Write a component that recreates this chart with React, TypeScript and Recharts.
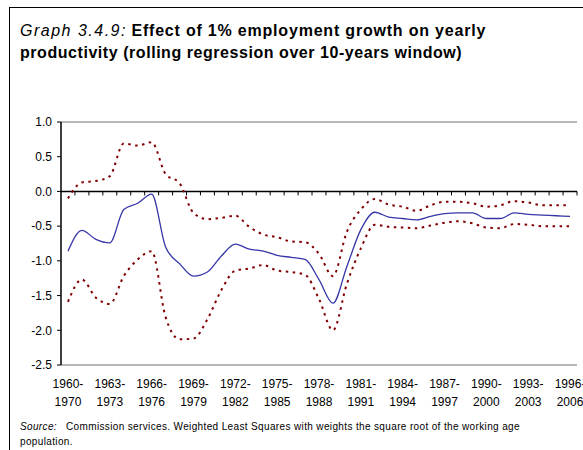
import React from 'react';
import { ComposedChart, Line, XAxis, YAxis, ReferenceLine } from 'recharts';

// 10-year rolling windows, 1960-1970 ... 1996-2006
const periods = [
  '1960-1970', '1961-1971', '1962-1972', '1963-1973', '1964-1974', '1965-1975',
  '1966-1976', '1967-1977', '1968-1978', '1969-1979', '1970-1980', '1971-1981',
  '1972-1982', '1973-1983', '1974-1984', '1975-1985', '1976-1986', '1977-1987',
  '1978-1988', '1979-1989', '1980-1990', '1981-1991', '1982-1992', '1983-1993',
  '1984-1994', '1985-1995', '1986-1996', '1987-1997', '1988-1998', '1989-1999',
  '1990-2000', '1991-2001', '1992-2002', '1993-2003', '1994-2004', '1995-2005',
  '1996-2006',
];

// point estimate
const estimate = [
  -0.86, -0.56, -0.69, -0.74, -0.26, -0.17, -0.04, -0.8, -1.04, -1.22, -1.16, -0.93,
  -0.76, -0.83, -0.86, -0.92, -0.95, -0.98, -1.27, -1.61, -1.08, -0.55, -0.3, -0.37,
  -0.39, -0.41, -0.36, -0.32, -0.31, -0.31, -0.39, -0.39, -0.31, -0.33, -0.34, -0.35,
  -0.36,
];

// confidence band
const upperBand = [
  -0.1, 0.13, 0.15, 0.22, 0.69, 0.66, 0.71, 0.25, 0.12, -0.31, -0.4, -0.38,
  -0.35, -0.51, -0.62, -0.66, -0.72, -0.73, -0.9, -1.22, -0.58, -0.26, -0.11, -0.19,
  -0.22, -0.28, -0.2, -0.15, -0.15, -0.17, -0.22, -0.2, -0.14, -0.16, -0.2, -0.2,
  -0.2,
];

const lowerBand = [
  -1.59, -1.27, -1.53, -1.62, -1.22, -0.98, -0.86, -1.81, -2.13, -2.12, -1.84, -1.42,
  -1.14, -1.11, -1.06, -1.14, -1.16, -1.2, -1.55, -2.0, -1.33, -0.82, -0.48, -0.51,
  -0.52, -0.53, -0.49, -0.45, -0.43, -0.46, -0.52, -0.53, -0.47, -0.48, -0.5, -0.5,
  -0.5,
];

const yTicks = [1.0, 0.5, 0.0, -0.5, -1.0, -1.5, -2.0, -2.5];

const data = periods.map((period, i) => ({
  period,
  estimate: estimate[i],
  upper: upperBand[i],
  lower: lowerBand[i],
}));

const FONT = '"Liberation Sans", Arial, sans-serif';

// zero line with Excel-style tick marks between categories
const ZeroAxis = (props: any) => {
  const { x1, y1, x2, y2 } = props;
  const step = (x2 - x1) / periods.length;
  return (
    <g>
      <line x1={x1} y1={y1} x2={x2} y2={y2} stroke="#000" strokeWidth={1.5} />
      {periods.map((p, i) => (
        <line
          key={p}
          x1={x1 + step * (i + 1)}
          x2={x1 + step * (i + 1)}
          y1={y1}
          y2={y1 + 4}
          stroke="#000"
          strokeWidth={1}
        />
      ))}
    </g>
  );
};

const PeriodTick = ({ x, y, payload }: any) => {
  const [from, to] = String(payload.value).split('-');
  return (
    <text x={x} y={y} textAnchor="middle" fontSize={12} fill="#000" fontFamily={FONT}>
      <tspan x={x} dy={23}>{from}-</tspan>
      <tspan x={x} dy={18}>{to}</tspan>
    </text>
  );
};

export default function App() {
  return (
    <div style={{ position: 'relative', width: 583, height: 450, overflow: 'hidden', fontFamily: FONT }}>
      <style>{'body{margin:0;overflow:hidden;}'}</style>

      {/* frame */}
      <div
        style={{
          position: 'absolute',
          left: 9,
          top: 7,
          width: 640,
          height: 500,
          borderLeft: '1.5px solid #000',
          borderTop: '1.5px solid #000',
        }}
      />

      <div style={{ position: 'absolute', left: 20, top: 19.5, fontSize: 16, lineHeight: '22px', color: '#000', whiteSpace: 'nowrap' }}>
        <span style={{ fontStyle: 'italic', letterSpacing: 1.5 }}>Graph 3.4.9:</span>{' '}
        <b style={{ letterSpacing: 0.8 }}>Effect of 1% employment growth on yearly</b>
        <br />
        <b style={{ letterSpacing: 0.55 }}>productivity (rolling regression over 10-years window)</b>
      </div>

      <div style={{ position: 'absolute', left: 9, top: 109 }}>
        <ComposedChart
          width={575}
          height={301}
          data={data}
          margin={{ top: 13, right: 7, bottom: 0, left: 7 }}
        >
          <XAxis
            dataKey="period"
            scale="band"
            interval={2}
            tickLine={false}
            tickSize={0}
            tickMargin={0}
            height={45}
            axisLine={{ stroke: '#a0a0a0', strokeWidth: 1.5 }}
            tick={<PeriodTick />}
          />
          <YAxis
            domain={[-2.5, 1]}
            ticks={yTicks}
            width={45}
            interval={0}
            tickSize={4}
            tickMargin={5}
            tickFormatter={(v: number) => v.toFixed(1)}
            axisLine={{ stroke: '#000', strokeWidth: 1.5 }}
            tickLine={{ stroke: '#000' }}
            tick={{ fill: '#000', fontSize: 12, fontFamily: FONT }}
          />
          <YAxis
            yAxisId="frame"
            orientation="right"
            width={0}
            tick={false}
            tickLine={false}
            axisLine={{ stroke: '#a0a0a0', strokeWidth: 1.5 }}
          />
          <ReferenceLine y={1} stroke="#a0a0a0" strokeWidth={1.5} />
          <ReferenceLine y={0} shape={<ZeroAxis />} />
          <Line
            dataKey="upper"
            type="monotone"
            stroke="#800000"
            strokeWidth={2}
            strokeDasharray="2.5 4.5"
            dot={false}
            isAnimationActive={false}
          />
          <Line
            dataKey="lower"
            type="monotone"
            stroke="#800000"
            strokeWidth={2}
            strokeDasharray="2.5 4.5"
            dot={false}
            isAnimationActive={false}
          />
          <Line
            dataKey="estimate"
            type="monotone"
            stroke="#3636a8"
            strokeWidth={1.3}
            dot={false}
            isAnimationActive={false}
          />
        </ComposedChart>
      </div>

      <div style={{ position: 'absolute', left: 20, top: 420, fontSize: 10, lineHeight: '14.5px', color: '#000', whiteSpace: 'nowrap', letterSpacing: 0.36 }}>
        <span style={{ fontStyle: 'italic', display: 'inline-block', width: 46 }}>Source:</span>
        Commission services. Weighted Least Squares with weights the square root of the working age
        <br />
        population.
      </div>
    </div>
  );
}
